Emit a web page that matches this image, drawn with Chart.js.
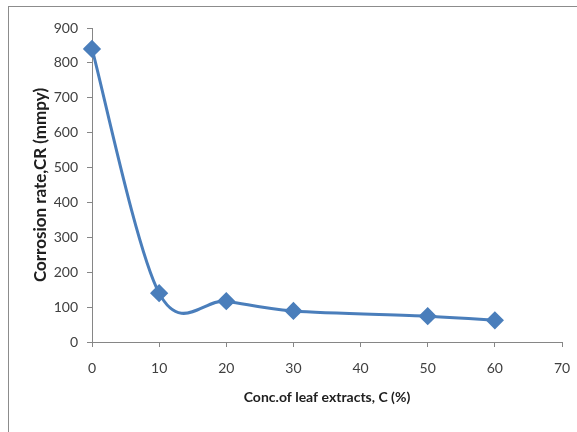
<!DOCTYPE html>
<html>
<head>
<meta charset="utf-8">
<script src="https://cdn.jsdelivr.net/npm/chart.js@4"></script>
<style>
  body { margin: 0; background: #fff; }
  #wrap { position: relative; width: 577px; height: 432px; overflow: hidden; }
  #frame { position: absolute; left: 8px; top: 6px; width: 600px; height: 460px; border: 1px solid #8c8c8c; }
  canvas { position: absolute; left: 0; top: 0; }
</style>
</head>
<body>
<div id="wrap">
  <div id="frame"></div>
  <canvas id="chart" width="577" height="432"></canvas>
</div>
<script>
const conc = [0, 10, 20, 30, 50, 60];
const corrosionRate = [840, 140, 117, 89, 74, 62];
const xTicks = [0, 10, 20, 30, 40, 50, 60, 70];
const yTicks = [0, 100, 200, 300, 400, 500, 600, 700, 800, 900];

const blue = "#4a7ebb";
const axisGray = "#868686";
const font = "Lato, 'Open Sans', sans-serif";

// spreadsheet-style smoothing: control points at +-(next - prev) / 6
const excelSmooth = {
  id: "excelSmooth",
  afterDatasetsUpdate(chart) {
    chart.getSortedVisibleDatasetMetas().forEach((meta) => {
      const pts = meta.data;
      const n = pts.length;
      pts.forEach((p, i) => {
        const prev = pts[Math.max(i - 1, 0)];
        const next = pts[Math.min(i + 1, n - 1)];
        const dx = (next.x - prev.x) / 6;
        const dy = (next.y - prev.y) / 6;
        p.cp1x = p.x - dx;
        p.cp1y = p.y - dy;
        p.cp2x = p.x + dx;
        p.cp2y = p.y + dy;
      });
      meta.dataset._pointsUpdated = true;
    });
  },
};

new Chart(document.getElementById("chart"), {
  type: "line",
  data: {
    datasets: [
      {
        data: conc.map((c, i) => ({ x: c, y: corrosionRate[i] })),
        borderColor: blue,
        backgroundColor: blue,
        borderWidth: 3,
        tension: 0.4,
        pointStyle: "rectRot",
        pointRadius: 7,
        pointHoverRadius: 7,
        clip: false,
      },
    ],
  },
  plugins: [excelSmooth],
  options: {
    responsive: false,
    animation: false,
    layout: { padding: { top: 28, right: 15, left: 0, bottom: 0 } },
    plugins: { legend: { display: false }, tooltip: { enabled: false } },
    scales: {
      x: {
        type: "linear",
        min: 0,
        max: 70,
        afterBuildTicks: (s) => (s.ticks = xTicks.map((v) => ({ value: v }))),
        afterFit: (s) => {
          s.height = 90;
          s.paddingLeft = 0;
          s.paddingRight = 15;
        },
        grid: { drawOnChartArea: false, tickLength: 5, tickColor: axisGray },
        border: { color: axisGray },
        ticks: { color: "#404040", font: { family: font, size: 14 }, padding: 13 },
        title: {
          display: true,
          text: "Conc.of leaf extracts, C (%)",
          color: "#202020",
          font: { family: font, size: 14, weight: "bold" },
          padding: { top: 0, bottom: 26 },
        },
      },
      y: {
        min: 0,
        max: 900,
        afterBuildTicks: (s) => (s.ticks = yTicks.map((v) => ({ value: v }))),
        afterFit: (s) => (s.width = 92),
        grid: { drawOnChartArea: false, tickLength: 5, tickColor: axisGray },
        border: { color: axisGray },
        ticks: { color: "#404040", font: { family: font, size: 14 }, padding: 9 },
        title: {
          display: true,
          text: "Corrosion rate,CR (mmpy)",
          color: "#202020",
          font: { family: font, size: 17, weight: "bold" },
          padding: { top: 30, bottom: 0 },
        },
      },
    },
  },
});
</script>
</body>
</html>
